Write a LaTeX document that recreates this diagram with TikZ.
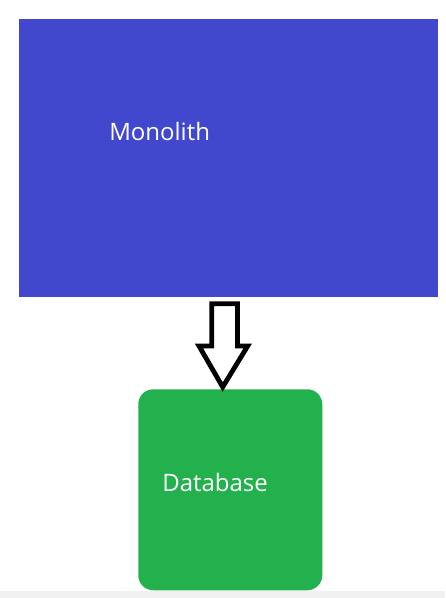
\documentclass[tikz,border=0pt]{standalone}
\usepackage{fontspec}
\setmainfont{Open Sans}
\definecolor{monoblue}{RGB}{65,72,205}
\definecolor{dbgreen}{RGB}{34,177,76}
\definecolor{stripgray}{RGB}{240,240,240}
\tikzset{
  boxlabel/.style={text=white,font=\fontsize{18pt}{20pt}\selectfont,inner sep=0pt,anchor=base west},
  blockarrow/.style={draw=black,line width=3.6pt,fill=white,line join=miter}
}
\begin{document}
\begin{tikzpicture}[x=0.75pt,y=-0.75pt]
\useasboundingbox (0,0) rectangle (445,598);
\fill[white] (0,0) rectangle (445,598);
\fill[stripgray] (0,591) rectangle (445,598);
\node[fill=monoblue,minimum width=419*0.75pt,minimum height=278*0.75pt,inner sep=0pt,anchor=north west] (mono) at (19,19) {};
\node[fill=dbgreen,rounded corners=15*0.75pt,minimum width=184*0.75pt,minimum height=201*0.75pt,inner sep=0pt,anchor=north west] (db) at (138,389) {};
\node[boxlabel] (monotext) at (109,140.5) {Monolith};
\node[boxlabel] (dbtext) at (162,491.5) {Database};
\draw[blockarrow] (211.7,303.7) -- (237.5,303.7) -- (237.5,346) -- (247.7,346) -- (222.7,387) -- (199,346) -- (211.7,346) -- cycle;
\end{tikzpicture}
\end{document}
